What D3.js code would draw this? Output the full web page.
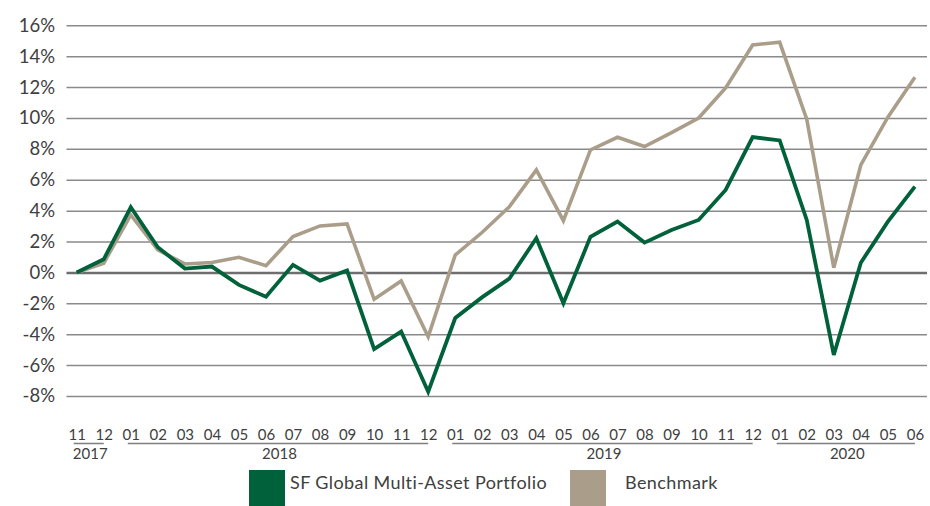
<!DOCTYPE html>
<html>
<head>
<meta charset="utf-8">
<script src="https://cdn.jsdelivr.net/npm/d3@7"></script>
<style>
  body { margin: 0; background: #fff; }
  text { font-family: Lato, "Open Sans", sans-serif; fill: #404040; }
</style>
</head>
<body>
<div id="canvas"></div>
<script>
"use strict"

/* Chart data: monthly cumulative return (%) */
let months = [
  "2017-11", "2017-12",
  "2018-01", "2018-02", "2018-03", "2018-04", "2018-05", "2018-06",
  "2018-07", "2018-08", "2018-09", "2018-10", "2018-11", "2018-12",
  "2019-01", "2019-02", "2019-03", "2019-04", "2019-05", "2019-06",
  "2019-07", "2019-08", "2019-09", "2019-10", "2019-11", "2019-12",
  "2020-01", "2020-02", "2020-03", "2020-04", "2020-05", "2020-06"
];

let portfolio = [
  0.0, 0.85,
  4.22, 1.63, 0.25, 0.38, -0.81, -1.57, 0.49, -0.53, 0.12, -4.97, -3.83, -7.72,
  -2.95, -1.6, -0.4, 2.21, -2.0, 2.3, 3.29, 1.93, 2.75, 3.4, 5.34, 8.76,
  8.55, 3.4, -5.34, 0.63, 3.29, 5.56
];

let benchmark = [
  0.0, 0.6,
  3.72, 1.46, 0.55, 0.64, 0.98, 0.44, 2.32, 3.01, 3.14, -1.74, -0.55, -4.16,
  1.13, 2.6, 4.25, 6.64, 3.35, 7.93, 8.75, 8.15, 9.05, 10.0, 11.95, 14.73,
  14.9, 9.92, 0.3, 6.96, 10.05, 12.64
];

let yTicks = [-8, -6, -4, -2, 0, 2, 4, 6, 8, 10, 12, 14, 16];

let seriesNames = ["SF Global Multi-Asset Portfolio", "Benchmark"];
let seriesColors = ["#00613a", "#aa9e8b"];

/* Drawing sizes */
let svgWidth = 930;
let svgHeight = 506;
let plotLeft = 66.5;
let plotRight = 927;
let plotTop = 25.3;
let plotBottom = 396;

let svg = d3.select("#canvas")
  .append("svg")
  .attr("width", svgWidth)
  .attr("height", svgHeight);

/* Scales */
let xScale = d3.scalePoint()
  .domain(months)
  .range([76.7, 914.9]);

let yScale = d3.scaleLinear()
  .domain([-8, 16])
  .range([plotBottom, plotTop]);

/* Y axis with gridlines */
let yAxis = svg.append("g")
  .attr("transform", "translate(" + plotLeft + ",0)")
  .call(d3.axisLeft(yScale)
    .tickValues(yTicks)
    .tickSize(-(plotRight - plotLeft))
    .tickPadding(11.5)
    .tickFormat(function (d) { return d + "%"; }));

yAxis.select(".domain").remove();
yAxis.selectAll(".tick line")
  .attr("stroke", function (d) { return d === 0 ? "#6e6e6e" : "#8a8a8a"; })
  .attr("stroke-width", function (d) { return d === 0 ? 2.6 : 1.5; });
yAxis.selectAll(".tick text")
  .style("font-size", "18.5px")
  .style("fill", "#404040");

/* Month labels */
let xAxis = svg.append("g")
  .attr("transform", "translate(0,429.3)")
  .call(d3.axisBottom(xScale)
    .tickSize(0)
    .tickPadding(0)
    .tickFormat(function (d) { return d.slice(5); }));

xAxis.select(".domain").remove();
xAxis.selectAll(".tick text")
  .style("font-size", "15px")
  .style("fill", "#404040");

/* Year groups: line under the months and a centred year label */
let years = d3.groups(months, function (d) { return d.slice(0, 4); });

years.forEach(function (g) {
  let x0 = xScale(g[1][0]);
  let x1 = xScale(g[1][g[1].length - 1]);

  svg.append("line")
    .attr("x1", x0 - 3)
    .attr("x2", x1)
    .attr("y1", 443.5)
    .attr("y2", 443.5)
    .attr("stroke", "#7f7f7f")
    .attr("stroke-width", 1.5);

  svg.append("text")
    .attr("x", (x0 + x1) / 2)
    .attr("y", 459.3)
    .attr("text-anchor", "middle")
    .style("font-size", "15px")
    .text(g[0]);
});

/* Lines: benchmark first so the portfolio sits on top */
let line = d3.line()
  .x(function (d, i) { return xScale(months[i]); })
  .y(function (d) { return yScale(d); });

svg.append("path")
  .datum(benchmark)
  .attr("fill", "none")
  .attr("stroke", seriesColors[1])
  .attr("stroke-width", 3.6)
  .attr("d", line);

svg.append("path")
  .datum(portfolio)
  .attr("fill", "none")
  .attr("stroke", seriesColors[0])
  .attr("stroke-width", 3.8)
  .attr("d", line);

/* Legend */
let legendX = [249, 570];
let legendText = [290, 625];

for (let i = 0; i < seriesNames.length; i = i + 1) {
  svg.append("rect")
    .attr("x", legendX[i])
    .attr("y", 470)
    .attr("width", 36)
    .attr("height", 36)
    .attr("fill", seriesColors[i]);

  svg.append("text")
    .attr("x", legendText[i])
    .attr("y", 489)
    .style("font-size", "18px")
    .style("letter-spacing", "0.4px")
    .text(seriesNames[i]);
}
</script>
</body>
</html>
